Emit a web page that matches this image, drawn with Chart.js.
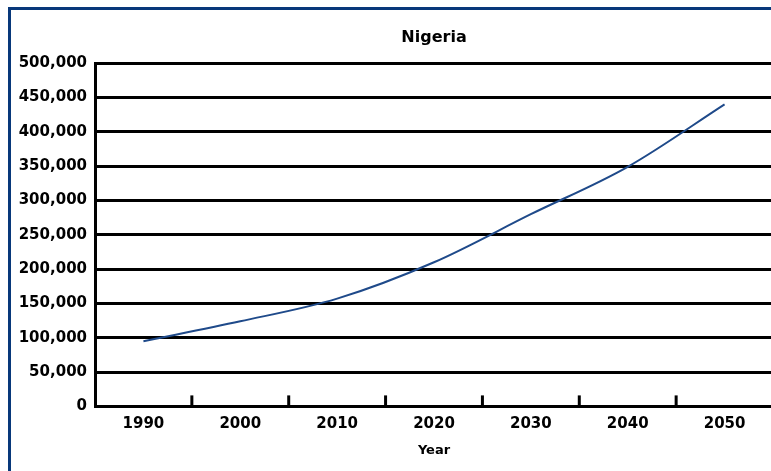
<!DOCTYPE html>
<html>
<head>
<meta charset="utf-8">
<script src="https://cdn.jsdelivr.net/npm/chart.js@4"></script>
<style>
  html, body { margin: 0; padding: 0; background: #fff; overflow: hidden; }
  body { width: 771px; height: 471px; position: relative; }
  .frame {
    position: absolute; left: 8px; top: 7px; width: 900px; height: 600px;
    border-left: 3px solid #08387a; border-top: 3px solid #08387a;
  }
  .wrap { position: absolute; left: 0; top: 0; width: 774px; height: 471px; }
</style>
</head>
<body>
<div class="frame"></div>
<div class="wrap"><canvas id="chart"></canvas></div>
<script>
const years = ['1990', '2000', '2010', '2020', '2030', '2040', '2050'];
const population = [95000, 124000, 157000, 210000, 280000, 349000, 440000];
const yMin = 0;
const yMax = 500000;
const yStep = 50000;

const font = "'DejaVu Sans', sans-serif";

// short tick marks pointing up into the plot, between the categories
const innerTicks = {
    id: 'innerTicks',
    afterDraw(chart) {
        const ctx = chart.ctx;
        const xs = chart.scales.x;
        const bottom = chart.chartArea.bottom;
        ctx.save();
        ctx.strokeStyle = '#000';
        ctx.lineWidth = 3;
        for (let i = 0; i < years.length - 1; i++) {
            const x = (xs.getPixelForValue(i) + xs.getPixelForValue(i + 1)) / 2;
            ctx.beginPath();
            ctx.moveTo(x, bottom - 11);
            ctx.lineTo(x, bottom);
            ctx.stroke();
        }
        ctx.restore();
    }
};

new Chart(document.getElementById('chart'), {
    type: 'line',
    data: {
        labels: years,
        datasets: [{
            label: 'Nigeria',
            data: population,
            borderColor: '#1f4a8a',
            borderWidth: 2,
            pointRadius: 0,
            fill: false,
            cubicInterpolationMode: 'monotone'
        }]
    },
    options: {
        responsive: true,
        maintainAspectRatio: false,
        animation: false,
        layout: { padding: { top: 28, left: 0, right: 1, bottom: 13 } },
        plugins: {
            legend: { display: false },
            tooltip: { enabled: false },
            title: {
                display: true,
                fullSize: false,
                text: 'Nigeria',
                color: '#000',
                font: { family: font, size: 16, weight: 'bold' },
                padding: { top: 0, bottom: 16 }
            }
        },
        scales: {
            x: {
                offset: true,
                grid: { display: false, drawTicks: false, offset: true },
                border: { display: true, color: '#000', width: 3 },
                ticks: {
                    color: '#000',
                    padding: 9,
                    font: { family: font, size: 15, weight: 'bold' }
                },
                title: {
                    display: true,
                    text: 'Year',
                    color: '#000',
                    font: { family: font, size: 13, weight: 'bold' },
                    padding: { top: 0, bottom: 0 }
                }
            },
            y: {
                min: yMin,
                max: yMax,
                afterFit(scale) { scale.width = 95; },
                grid: { color: '#000', lineWidth: 3, drawTicks: false },
                border: { display: true, color: '#000', width: 3 },
                ticks: {
                    stepSize: yStep,
                    color: '#000',
                    padding: 8,
                    font: { family: font, size: 15, weight: 'bold' },
                    callback: (v) => v.toLocaleString('en-US')
                }
            }
        }
    },
    plugins: [innerTicks]
});
</script>
</body>
</html>
